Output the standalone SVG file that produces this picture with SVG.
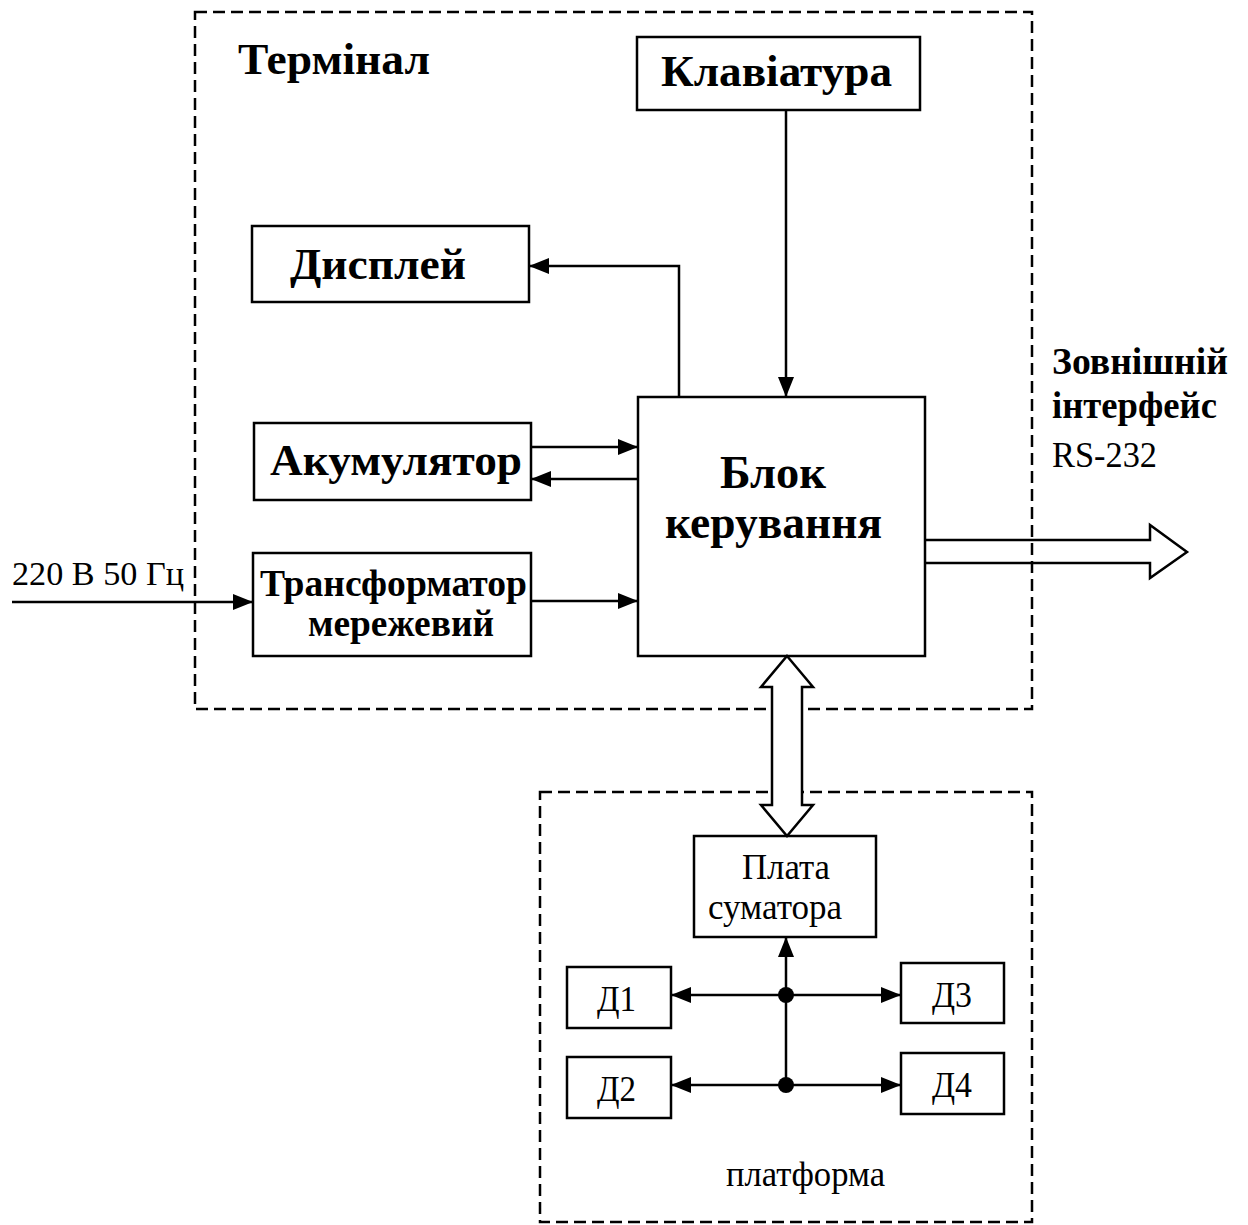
<svg xmlns="http://www.w3.org/2000/svg" width="1248" height="1225" viewBox="0 0 1248 1225">
<style>
.box{fill:#fff;stroke:#000;stroke-width:2.5}
.dash{fill:none;stroke:#000;stroke-width:2.5;stroke-dasharray:12 6}
.ln{fill:none;stroke:#000;stroke-width:2.5}
.b{font-family:"Liberation Serif",serif;font-weight:bold;fill:#000}
.r{font-family:"Liberation Serif",serif;fill:#000}
</style>
<defs>
<marker id="a" viewBox="0 0 10 10" refX="10" refY="5" markerWidth="20" markerHeight="20" markerUnits="userSpaceOnUse" orient="auto">
<path d="M0,1 L10,5 L0,9 z" fill="#000"/>
</marker>
</defs>
<rect width="1248" height="1225" fill="#fff"/>
<g id="terminal">
<rect class="dash" x="195" y="12" width="837" height="697"/>
<text class="b" x="238" y="74" font-size="44" textLength="192" lengthAdjust="spacingAndGlyphs">Термінал</text>
</g>
<g id="platform">
<rect class="dash" x="540" y="792" width="492" height="430"/>
<text class="r" x="726" y="1186" font-size="35" textLength="159" lengthAdjust="spacingAndGlyphs">платформа</text>
</g>
<g id="keyboard">
<rect class="box" x="637" y="37" width="283" height="73"/>
<text class="b" x="661" y="86" font-size="44" textLength="231" lengthAdjust="spacingAndGlyphs">Клавіатура</text>
</g>
<g id="display">
<rect class="box" x="252" y="226" width="277" height="76"/>
<text class="b" x="290" y="279" font-size="44" textLength="176" lengthAdjust="spacingAndGlyphs">Дисплей</text>
</g>
<g id="battery">
<rect class="box" x="254" y="423" width="277" height="77"/>
<text class="b" x="270" y="475" font-size="44" textLength="252" lengthAdjust="spacingAndGlyphs">Акумулятор</text>
</g>
<g id="transformer">
<rect class="box" x="253" y="553" width="278" height="103"/>
<text class="b" x="260" y="596" font-size="37" textLength="267" lengthAdjust="spacingAndGlyphs">Трансформатор</text>
<text class="b" x="308" y="636" font-size="37" textLength="186" lengthAdjust="spacingAndGlyphs">мережевий</text>
</g>
<g id="control">
<rect class="box" x="638" y="397" width="287" height="259"/>
<text class="b" x="720" y="488" font-size="46" textLength="106" lengthAdjust="spacingAndGlyphs">Блок</text>
<text class="b" x="665" y="538" font-size="46" textLength="217" lengthAdjust="spacingAndGlyphs">керування</text>
</g>
<g id="iface">
<text class="b" x="1052" y="374" font-size="37" textLength="176" lengthAdjust="spacingAndGlyphs">Зовнішній</text>
<text class="b" x="1052" y="418" font-size="37" textLength="165" lengthAdjust="spacingAndGlyphs">інтерфейс</text>
<text class="r" x="1052" y="467" font-size="35" textLength="105" lengthAdjust="spacingAndGlyphs">RS-232</text>
</g>
<g id="power">
<text class="r" x="12" y="585" font-size="34" textLength="172" lengthAdjust="spacingAndGlyphs">220 В 50 Гц</text>
</g>
<g id="summator">
<rect class="box" x="694" y="836" width="182" height="101"/>
<text class="r" x="742" y="879" font-size="35" textLength="88" lengthAdjust="spacingAndGlyphs">Плата</text>
<text class="r" x="708" y="919" font-size="35" textLength="134" lengthAdjust="spacingAndGlyphs">суматора</text>
</g>
<g id="d1"><rect class="box" x="567" y="967" width="104" height="61"/><text class="r" x="597" y="1011" font-size="35" textLength="39" lengthAdjust="spacingAndGlyphs">Д1</text></g>
<g id="d2"><rect class="box" x="567" y="1057" width="104" height="61"/><text class="r" x="597" y="1101" font-size="35" textLength="39" lengthAdjust="spacingAndGlyphs">Д2</text></g>
<g id="d3"><rect class="box" x="901" y="963" width="103" height="60"/><text class="r" x="932" y="1007" font-size="35" textLength="40" lengthAdjust="spacingAndGlyphs">Д3</text></g>
<g id="d4"><rect class="box" x="901" y="1053" width="103" height="61"/><text class="r" x="932" y="1097" font-size="35" textLength="40" lengthAdjust="spacingAndGlyphs">Д4</text></g>
<g id="connectors">
<line class="ln" x1="786" y1="110" x2="786" y2="397" marker-end="url(#a)"/>
<polyline class="ln" points="679,397 679,266 529,266" marker-end="url(#a)"/>
<line class="ln" x1="531" y1="447" x2="638" y2="447" marker-end="url(#a)"/>
<line class="ln" x1="638" y1="479" x2="531" y2="479" marker-end="url(#a)"/>
<line class="ln" x1="531" y1="601" x2="638" y2="601" marker-end="url(#a)"/>
<line class="ln" x1="12" y1="602" x2="253" y2="602" marker-end="url(#a)"/>
<path class="ln" d="M925,540 L1150,540 L1150,525 L1187,552 L1150,578 L1150,563 L925,563"/>
<path class="ln" style="fill:#fff" d="M787,656 L813,687 L802,687 L802,805 L813,805 L787,836 L761,805 L772,805 L772,687 L761,687 Z"/>
<line class="ln" x1="786" y1="1085" x2="786" y2="937" marker-end="url(#a)"/>
<line class="ln" x1="786" y1="995" x2="671" y2="995" marker-end="url(#a)"/>
<line class="ln" x1="786" y1="995" x2="901" y2="995" marker-end="url(#a)"/>
<line class="ln" x1="786" y1="1085" x2="671" y2="1085" marker-end="url(#a)"/>
<line class="ln" x1="786" y1="1085" x2="901" y2="1085" marker-end="url(#a)"/>
<circle cx="786" cy="995" r="8" fill="#000"/>
<circle cx="786" cy="1085" r="8" fill="#000"/>
</g>
</svg>
